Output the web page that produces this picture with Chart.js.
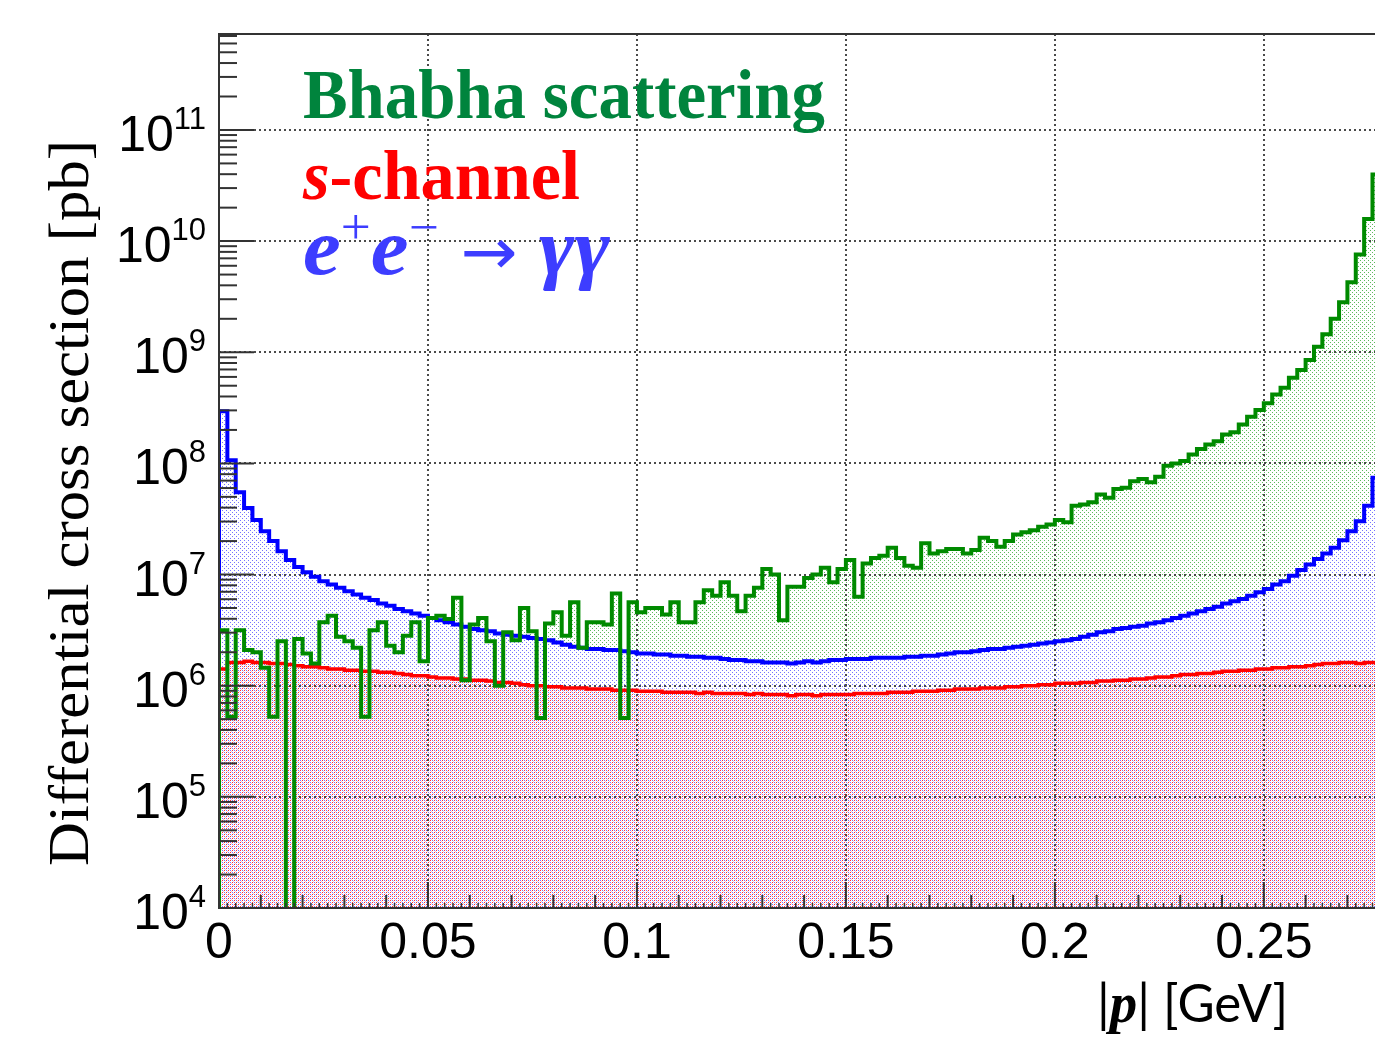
<!DOCTYPE html>
<html>
<head>
<meta charset="utf-8">
<script src="https://cdn.jsdelivr.net/npm/chart.js@4.4.1/dist/chart.umd.min.js"></script>
<style>
  body { margin: 0; background: #fff; }
  canvas { display: block; }
</style>
</head>
<body>
<canvas id="c" width="1375" height="1037"></canvas>
<script>
// histogram bins: 0.002 GeV wide, starting at |p| = 0
const binWidth = 0.002;

// e+e- -> gamma gamma
const blueVals = [
  2.95e8, 1.07e8, 5.5e7, 3.98e7, 3.09e7, 2.45e7, 2.0e7, 1.62e7, 1.35e7, 1.17e7,
  1.05e7, 9.55e6, 8.71e6, 8.13e6, 7.59e6, 7.08e6, 6.61e6, 6.17e6, 5.89e6, 5.50e6,
  5.25e6, 4.90e6, 4.68e6, 4.47e6, 4.27e6, 4.07e6, 3.89e6, 3.72e6, 3.55e6, 3.39e6,
  3.24e6, 3.16e6, 3.09e6, 2.95e6, 2.88e6, 2.82e6, 2.75e6, 2.69e6, 2.63e6, 2.57e6,
  2.45e6, 2.34e6, 2.24e6, 2.19e6, 2.14e6, 2.14e6, 2.09e6, 2.09e6, 2.04e6, 2.00e6,
  1.95e6, 1.95e6, 1.91e6, 1.91e6, 1.86e6, 1.86e6, 1.82e6, 1.82e6, 1.78e6, 1.78e6,
  1.74e6, 1.70e6, 1.70e6, 1.66e6, 1.66e6, 1.62e6, 1.62e6, 1.62e6, 1.58e6, 1.62e6,
  1.66e6, 1.62e6, 1.66e6, 1.70e6, 1.70e6, 1.74e6, 1.74e6, 1.74e6, 1.78e6, 1.78e6,
  1.78e6, 1.78e6, 1.82e6, 1.82e6, 1.86e6, 1.86e6, 1.91e6, 1.95e6, 2.00e6, 2.00e6,
  2.04e6, 2.09e6, 2.14e6, 2.14e6, 2.19e6, 2.24e6, 2.29e6, 2.34e6, 2.40e6, 2.45e6,
  2.51e6, 2.57e6, 2.63e6, 2.75e6, 2.88e6, 3.02e6, 3.09e6, 3.24e6, 3.31e6, 3.39e6,
  3.47e6, 3.63e6, 3.72e6, 3.89e6, 4.07e6, 4.27e6, 4.47e6, 4.68e6, 4.90e6, 5.13e6,
  5.50e6, 5.75e6, 6.03e6, 6.46e6, 6.92e6, 7.41e6, 8.13e6, 8.71e6, 9.77e6, 1.10e7,
  1.23e7, 1.38e7, 1.55e7, 1.74e7, 2.04e7, 2.45e7, 3.02e7, 4.17e7, 7.41e7
];

// s-channel
const redVals = [
  1.41e6, 1.62e6, 1.62e6, 1.66e6, 1.62e6, 1.62e6, 1.58e6, 1.58e6, 1.55e6, 1.51e6,
  1.48e6, 1.48e6, 1.45e6, 1.41e6, 1.41e6, 1.38e6, 1.38e6, 1.35e6, 1.35e6, 1.32e6,
  1.32e6, 1.29e6, 1.26e6, 1.23e6, 1.23e6, 1.20e6, 1.17e6, 1.17e6, 1.15e6, 1.15e6,
  1.12e6, 1.12e6, 1.10e6, 1.07e6, 1.07e6, 1.05e6, 1.02e6, 1.00e6, 1.00e6, 9.77e5,
  9.77e5, 9.55e5, 9.55e5, 9.55e5, 9.33e5, 9.33e5, 9.33e5, 9.12e5, 9.12e5, 9.12e5,
  8.91e5, 8.91e5, 8.91e5, 8.71e5, 8.71e5, 8.71e5, 8.71e5, 8.51e5, 8.71e5, 8.51e5,
  8.51e5, 8.51e5, 8.51e5, 8.32e5, 8.51e5, 8.32e5, 8.32e5, 8.32e5, 8.13e5, 8.32e5,
  8.32e5, 8.13e5, 8.32e5, 8.32e5, 8.32e5, 8.32e5, 8.51e5, 8.51e5, 8.51e5, 8.51e5,
  8.71e5, 8.71e5, 8.71e5, 8.91e5, 8.91e5, 8.91e5, 9.12e5, 9.12e5, 9.33e5, 9.33e5,
  9.33e5, 9.55e5, 9.55e5, 9.55e5, 9.77e5, 9.77e5, 1.00e6, 1.00e6, 1.02e6, 1.02e6,
  1.05e6, 1.05e6, 1.05e6, 1.07e6, 1.07e6, 1.10e6, 1.10e6, 1.12e6, 1.12e6, 1.15e6,
  1.15e6, 1.17e6, 1.20e6, 1.20e6, 1.23e6, 1.26e6, 1.26e6, 1.29e6, 1.29e6, 1.32e6,
  1.35e6, 1.35e6, 1.38e6, 1.38e6, 1.41e6, 1.41e6, 1.45e6, 1.45e6, 1.48e6, 1.48e6,
  1.51e6, 1.55e6, 1.58e6, 1.58e6, 1.62e6, 1.62e6, 1.58e6, 1.62e6, 1.62e6
];

// Bhabha scattering (empty bins given as 1, below the axis)
const greenVals = [
  3.16e6, 5.25e5, 3.16e6, 2.09e6, 2.0e6, 1.45e6, 5.25e5, 2.51e6, 1, 2.63e6,
  1.95e6, 1.58e6, 3.72e6, 4.27e6, 2.75e6, 2.51e6, 2.19e6, 5.25e5, 3.16e6, 3.72e6,
  2.29e6, 2.0e6, 2.82e6, 3.72e6, 1.66e6, 4.07e6, 4.27e6, 3.98e6, 6.17e6, 1.12e6,
  3.55e6, 4.07e6, 2.51e6, 1.0e6, 3.02e6, 2.57e6, 5.01e6, 3.09e6, 5.13e5, 3.63e6,
  4.57e6, 2.82e6, 5.62e6, 2.19e6, 3.72e6, 3.72e6, 3.55e6, 6.76e6, 5.13e5, 5.62e6,
  4.57e6, 5.01e6, 5.01e6, 4.37e6, 5.62e6, 3.72e6, 3.72e6, 5.62e6, 7.24e6, 6.46e6,
  8.51e6, 6.46e6, 4.68e6, 6.46e6, 7.59e6, 1.12e7, 1.0e7, 3.89e6, 7.76e6, 7.76e6,
  9.33e6, 1.0e7, 1.15e7, 8.51e6, 1.12e7, 1.35e7, 6.31e6, 1.26e7, 1.41e7, 1.48e7,
  1.74e7, 1.41e7, 1.20e7, 1.15e7, 1.91e7, 1.55e7, 1.62e7, 1.70e7, 1.70e7, 1.55e7,
  1.66e7, 2.14e7, 2.0e7, 1.78e7, 2.0e7, 2.29e7, 2.40e7, 2.51e7, 2.69e7, 2.82e7,
  3.09e7, 2.95e7, 4.17e7, 4.27e7, 4.47e7, 5.25e7, 4.90e7, 5.89e7, 6.03e7, 6.92e7,
  7.24e7, 6.76e7, 7.59e7, 9.55e7, 1.0e8, 1.05e8, 1.20e8, 1.35e8, 1.48e8, 1.58e8,
  1.82e8, 1.91e8, 2.24e8, 2.63e8, 3.02e8, 3.47e8, 4.17e8, 4.79e8, 5.89e8, 6.92e8,
  8.51e8, 1.12e9, 1.45e9, 2.0e9, 2.82e9, 4.27e9, 7.59e9, 1.58e10, 3.98e10
];

const xTickValues = [0, 0.05, 0.1, 0.15, 0.2, 0.25];
const xTickLabels = ['0', '0.05', '0.1', '0.15', '0.2', '0.25'];
const yExponents = [4, 5, 6, 7, 8, 9, 10, 11];

const xMin = 0, xMax = 0.2766;
const yMin = 1e4, yMax = 7.3e11;

function histPoints(vals) {
  const pts = [{ x: 0, y: 1 }];
  vals.forEach((v, i) => pts.push({ x: i * binWidth, y: v }));
  pts.push({ x: vals.length * binWidth, y: vals[vals.length - 1] });
  return pts;
}

const canvas = document.getElementById('c');
const ctx = canvas.getContext('2d');

function dotPattern(dots, bg) {
  const c = document.createElement('canvas');
  c.width = 4; c.height = 4;
  const g = c.getContext('2d');
  if (bg) { g.fillStyle = bg; g.fillRect(0, 0, 4, 4); }
  dots.forEach(([col, x, y]) => { g.fillStyle = col; g.fillRect(x, y, 1, 1); });
  return ctx.createPattern(c, 'repeat');
}

const greenFill = dotPattern([['#5cb85c', 0, 0], ['#5cb85c', 2, 2]]);
const blueFill = dotPattern([['#7474ff', 0, 0], ['#7474ff', 2, 2]], '#ffffff');
const redFill = dotPattern([['#ff3030', 2, 0], ['#ff3030', 0, 2], ['#f7c6d2', 1, 1], ['#f7c6d2', 3, 3]]);

function lineSet(vals, color, w) {
  return {
    data: histPoints(vals), borderColor: color, borderWidth: w, fill: false,
    stepped: true, pointRadius: 0, borderJoinStyle: 'miter', borderCapStyle: 'butt'
  };
}
function fillSet(vals, pattern) {
  return {
    data: histPoints(vals), borderColor: 'rgba(0,0,0,0)', borderWidth: 0,
    backgroundColor: pattern, fill: 'start', stepped: true, pointRadius: 0
  };
}

function drawRuns(runs, x, y, width) {
  let total = 0;
  runs.forEach(r => { ctx.font = r.font; r.w = ctx.measureText(r.t).width; total += r.w; });
  const s = width / total;
  ctx.save();
  ctx.translate(x, y);
  ctx.scale(s, 1);
  ctx.textAlign = 'left';
  ctx.textBaseline = 'alphabetic';
  let cx = 0;
  runs.forEach(r => {
    ctx.font = r.font;
    ctx.fillStyle = r.color;
    ctx.fillText(r.t, cx, r.dy || 0);
    cx += r.w;
  });
  ctx.restore();
}

const framePlugin = {
  id: 'frame',
  beforeDatasetsDraw(chart) {
    const { chartArea: a, scales: { x, y } } = chart;
    ctx.save();
    ctx.strokeStyle = '#4a4a4a';
    ctx.lineWidth = 2;
    ctx.setLineDash([2, 3]);
    xTickValues.slice(1).forEach(v => {
      const px = Math.round(x.getPixelForValue(v));
      ctx.beginPath(); ctx.moveTo(px, a.top); ctx.lineTo(px, a.bottom); ctx.stroke();
    });
    yExponents.slice(1).forEach(e => {
      const py = Math.round(y.getPixelForValue(Math.pow(10, e)));
      ctx.beginPath(); ctx.moveTo(a.left, py); ctx.lineTo(a.right, py); ctx.stroke();
    });
    ctx.restore();
  },
  afterDraw(chart) {
    const { chartArea: a, scales: { x, y } } = chart;
    ctx.save();
    ctx.strokeStyle = '#333';
    ctx.lineWidth = 2;
    // frame
    ctx.beginPath();
    ctx.moveTo(a.right + 2, a.top); ctx.lineTo(a.left, a.top);
    ctx.lineTo(a.left, a.bottom); ctx.lineTo(a.right + 2, a.bottom);
    ctx.stroke();

    // x ticks pointing into the plot
    for (let i = 0; i * 0.002 <= xMax + 1e-9; i++) {
      const v = i * 0.002;
      const len = i % 25 === 0 ? 26 : (i % 5 === 0 ? 13 : 5);
      const px = x.getPixelForValue(v);
      ctx.lineWidth = len > 5 ? 2 : 1.5;
      ctx.beginPath(); ctx.moveTo(px, a.bottom); ctx.lineTo(px, a.bottom - len); ctx.stroke();
    }
    // y ticks, log decades and 2..9 minors
    yExponents.forEach(e => {
      for (let m = 1; m <= 9; m++) {
        const v = m * Math.pow(10, e);
        if (v > yMax) break;
        const py = y.getPixelForValue(v);
        const len = m === 1 ? 35 : 18;
        ctx.lineWidth = 2;
        ctx.beginPath(); ctx.moveTo(a.left, py); ctx.lineTo(a.left + len, py); ctx.stroke();
      }
    });
    ctx.restore();

    // tick labels
    ctx.save();
    ctx.fillStyle = '#000';
    ctx.textBaseline = 'alphabetic';
    ctx.font = '50px "Liberation Sans", Arial, sans-serif';
    ctx.textAlign = 'center';
    xTickValues.forEach((v, i) => ctx.fillText(xTickLabels[i], x.getPixelForValue(v), 958));
    yExponents.forEach(e => {
      const py = y.getPixelForValue(Math.pow(10, e));
      ctx.textAlign = 'right';
      ctx.font = '31px "Liberation Sans", Arial, sans-serif';
      const ew = ctx.measureText(String(e)).width;
      ctx.fillText(String(e), 206, py - 1);
      ctx.font = '50px "Liberation Sans", Arial, sans-serif';
      ctx.fillText('10', 206 - ew, py + 21);
    });
    ctx.restore();

    // axis titles
    drawRuns([
      { t: '|', font: '52px Lato, sans-serif', color: '#000' },
      { t: 'p', font: 'bold italic 56px "Liberation Serif", serif', color: '#000' },
      { t: '| [GeV]', font: '52px Lato, sans-serif', color: '#000' }
    ], 1097, 1022, 191);

    ctx.save();
    ctx.translate(88, 866);
    ctx.rotate(-Math.PI / 2);
    ctx.translate(-88, -866);
    drawRuns([
      { t: 'Differential cross section [pb]', font: '58px "Liberation Serif", serif', color: '#000' }
    ], 88, 866, 726);
    ctx.restore();

    // legend texts
    drawRuns([
      { t: 'Bhabha scattering', font: 'bold 69px "Liberation Serif", serif', color: '#00843d' }
    ], 303, 118, 522);
    drawRuns([
      { t: 's', font: 'bold italic 69px "Liberation Serif", serif', color: '#ff0000' },
      { t: '-channel', font: 'bold 69px "Liberation Serif", serif', color: '#ff0000' }
    ], 303, 199, 277);
    drawRuns([
      { t: 'e', font: 'bold italic 80px "Liberation Serif", serif', color: '#3d3dff' },
      { t: '+', font: '50px "Liberation Serif", serif', color: '#3d3dff', dy: -30 },
      { t: 'e', font: 'bold italic 80px "Liberation Serif", serif', color: '#3d3dff' },
      { t: '\u2212', font: '50px "Liberation Serif", serif', color: '#3d3dff', dy: -30 },
      { t: ' \u2192 ', font: '64px "DejaVu Sans", sans-serif', color: '#3d3dff' },
      { t: '\u03B3\u03B3', font: 'bold italic 80px "Liberation Serif", serif', color: '#3d3dff' }
    ], 303, 274, 307);
  }
};

new Chart(ctx, {
  type: 'line',
  data: {
    datasets: [
      lineSet(greenVals, '#008a00', 4),
      lineSet(blueVals, '#0000ff', 4),
      lineSet(redVals, '#ff0000', 3.5),
      fillSet(redVals, redFill),
      fillSet(blueVals, blueFill),
      fillSet(greenVals, greenFill)
    ]
  },
  options: {
    responsive: false,
    animation: false,
    events: [],
    layout: { autoPadding: false, padding: { left: 219, top: 34, right: 0, bottom: 129 } },
    scales: {
      x: { type: 'linear', display: false, min: xMin, max: xMax },
      y: { type: 'logarithmic', display: false, min: yMin, max: yMax }
    },
    plugins: {
      legend: { display: false },
      tooltip: { enabled: false },
      filler: { drawTime: 'beforeDatasetsDraw' }
    }
  },
  plugins: [framePlugin]
});
</script>
</body>
</html>
